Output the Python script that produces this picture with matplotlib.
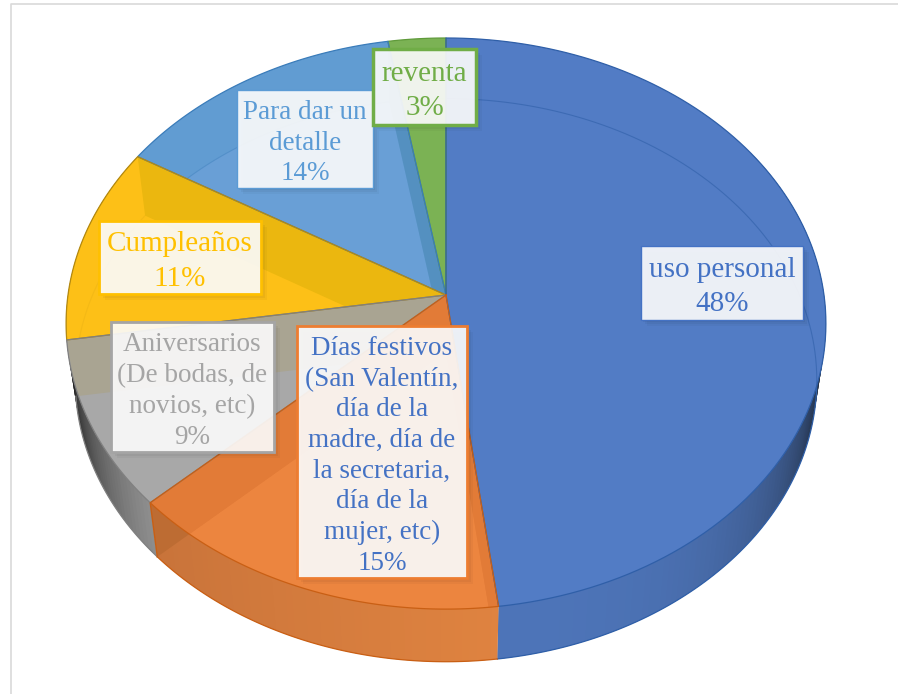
import numpy as np
import matplotlib
matplotlib.use('Agg')
import matplotlib.pyplot as plt
from matplotlib.patches import Rectangle
from matplotlib.colors import to_rgb

plt.rcParams['font.family'] = ['Liberation Serif', 'DejaVu Serif']

# data, clockwise from the top
labels = ['uso personal', 'Días festivos\n(San Valentín,\ndía de la\nmadre, día de\nla secretaria,\ndía de la\nmujer, etc)',
          'Aniversarios\n(De bodas, de\nnovios, etc)', 'Cumpleaños', 'Para dar un\ndetalle', 'reventa']
percents = [48, 15, 9, 11, 14, 3]
# shares
values = [48.0, 15.0, 9.5, 11.1, 13.7, 2.7]

# colours per slice
top_colors = ['#527cc5', '#e27b37', '#a8a8a8', '#fdc017', '#619cd2', '#7bb254']
inner_colors = ['#527cc5', '#ec853f', '#a8a8a8', '#fdc017', '#699fd6', '#7bb254']
edge_colors = ['#2f5fa8', '#c95f14', '#808080', '#b58a10', '#3a7cba', '#5f9a3a']
arc_alpha = [0.6, 0.6, 0.3, 0.12, 0.4, 0.3]
text_colors = ['#4472c4', '#4472c4', '#a5a5a5', '#ffc000', '#5b9bd5', '#70ad47']
box_edges = ['#4472c4', '#ed7d31', '#a5a5a5', '#ffc000', '#5b9bd5', '#70ad47']
box_lw = [1, 2, 2, 2, 1, 2.5]
font_sizes = [21, 19.5, 19.5, 21, 19.5, 21]
line_sp = [1.44, 1.3, 1.3, 1.44, 1.3, 1.44]
# x0, y0, x1, y1 of each label box in pixels
boxes = [(641, 246, 803, 320), (297, 326, 467, 578), (111, 322, 274, 452),
         (99, 221, 261, 294), (237, 90, 373, 188), (373, 49, 476, 125)]

# projection of the tilted disc
CX, CY, A, B, K = 446, 295, 378, 282.7, 0.1
DY, SX, SY = 57, 0.976, 0.986


def project(theta, r=1.0, bottom=False):
    t = np.radians(theta)
    w = 1 + K * r * np.cos(t)
    x = A * r * np.sin(t) / w
    y = -B * r * np.cos(t) / w
    if bottom:
        return CX + SX * x, CY + DY + SY * y
    return CX + x, CY + y


def wedge_xy(a0, a1, bottom=False):
    th = np.linspace(a0, a1, 120)
    x, y = project(th, bottom=bottom)
    ax0, ay0 = project(0.0, 0.0, bottom=bottom)
    return np.r_[ax0, x], np.r_[ay0, y]


def mix(c1, c2, t):
    c1, c2 = np.array(to_rgb(c1)), np.array(to_rgb(c2))
    return tuple(c1 + (c2 - c1) * t)


def side_color(i, th):
    if i == 0:
        return mix('#4d74b8', '#1c2636', np.clip((172 - th) / 72, 0, 1) ** 2.6)
    if i == 1:
        return mix('#df8340', '#c8733a', np.clip((th - 172) / 55, 0, 1))
    if i == 2:
        return mix('#8e8e8e', '#1c1c1c', np.clip((th - 226) / 34, 0, 1) ** 1.2)
    return '#333333'


fig = plt.figure(figsize=(8.98, 6.94), dpi=100)
ax = fig.add_axes([0, 0, 1, 1])
ax.set_xlim(0, 898)
ax.set_ylim(694, 0)
ax.axis('off')

# chart frame
ax.plot([11, 11, 898], [694, 4, 4], color='#d9d9d9', lw=1.2, zorder=0)

bounds = np.r_[0, np.cumsum(values)] / sum(values) * 360

# outer side of the pie, each strip runs under the next one so no seams show
for i in range(len(values)):
    a0, a1 = bounds[i], bounds[i + 1]
    for s in np.arange(a0, a1, 1.0):
        e = min(s + 2.0, a1)
        if s > 300 or e < 60:
            continue
        xt, yt = project(np.array([s, e]))
        xb, yb = project(np.array([e, s]), bottom=True)
        ax.fill(np.r_[xt, xb], np.r_[yt, yb], color=side_color(i, s), lw=0, zorder=1 + i * 0.01)

# bottom rim outline
for i, ec in enumerate(edge_colors[:3]):
    th = np.linspace(max(bounds[i], 60), bounds[i + 1], 120)
    ax.plot(*project(th, bottom=True), color=ec, lw=0.9, zorder=2)

# orange inner wall seen through the side
xt, yt = project(bounds[2])
xb, yb = project(bounds[2], bottom=True)
xa, ya = project(0.0, 0.0, bottom=True)
th = np.linspace(bounds[1], bounds[2], 120)
side_x = np.r_[project(th)[0], project(th[::-1], bottom=True)[0]]
side_y = np.r_[project(th)[1], project(th[::-1], bottom=True)[1]]
clip_side = ax.fill(side_x, side_y, color='none', zorder=2)[0]
wall = ax.fill([CX, xt, xb, xa], [CY, yt, yb, ya], color='#bd6c33', lw=0, zorder=3)[0]
wall.set_clip_path(clip_side)
ax.plot([xt, xb], [yt, yb], color=edge_colors[1], lw=1, zorder=4)

# top faces
faces = []
for i in range(len(values)):
    x, y = wedge_xy(bounds[i], bounds[i + 1])
    faces.append(ax.fill(x, y, color=top_colors[i], lw=0, zorder=5)[0])

# bottom disc seen through the top face, with its rim as a thin line
for i in range(len(values)):
    x, y = wedge_xy(bounds[i], bounds[i + 1], bottom=True)
    p = ax.fill(x, y, color=inner_colors[i], lw=0, zorder=6)[0]
    p.set_clip_path(faces[i])
    th = np.linspace(bounds[i], bounds[i + 1], 120)
    ln, = ax.plot(*project(th, bottom=True), color=edge_colors[i], lw=0.8, alpha=arc_alpha[i], zorder=7)
    ln.set_clip_path(faces[i])

# walls of the cuts: boundary index, face it shows on, colour
walls = [(1, 1, '#e27b37'), (2, 1, '#e27b37'), (3, 2, '#a9a492'), (4, 3, '#ebb70f'), (5, 4, '#5490c0')]
for b, f, c in walls:
    xt, yt = project(bounds[b])
    xb, yb = project(bounds[b], bottom=True)
    p = ax.fill([CX, xt, xb, xa], [CY, yt, yb, ya], color=c, lw=0, zorder=8)[0]
    p.set_clip_path(faces[f])

# slice outlines, order decides which colour wins on a shared edge
for i in [5, 4, 3, 2, 0, 1]:
    x, y = wedge_xy(bounds[i], bounds[i + 1])
    ax.plot(np.r_[x, x[0]], np.r_[y, y[0]], color=edge_colors[i], lw=0.9, zorder=9)

# labels
for i in range(len(values)):
    x0, y0, x1, y1 = boxes[i]
    for off, al in [(9, 0.03), (7, 0.04), (5, 0.05), (3, 0.06)]:
        ax.add_patch(Rectangle((x0 + off - 3, y0 + off - 3), x1 - x0, y1 - y0, facecolor='#000000',
                               alpha=al, lw=0, zorder=10 + i * 0.1))
    ax.add_patch(Rectangle((x0, y0), x1 - x0, y1 - y0, facecolor=(1, 1, 1, 0.9),
                           edgecolor=box_edges[i], lw=box_lw[i], zorder=10 + i * 0.1))
    ax.text((x0 + x1) / 2, (y0 + y1) / 2 + 4, f'{labels[i]}\n{percents[i]}%', color=text_colors[i],
            fontsize=font_sizes[i], ha='center', va='center', ma='center', linespacing=line_sp[i],
            zorder=10.05 + i * 0.1)

plt.savefig('out.png', dpi=100)
